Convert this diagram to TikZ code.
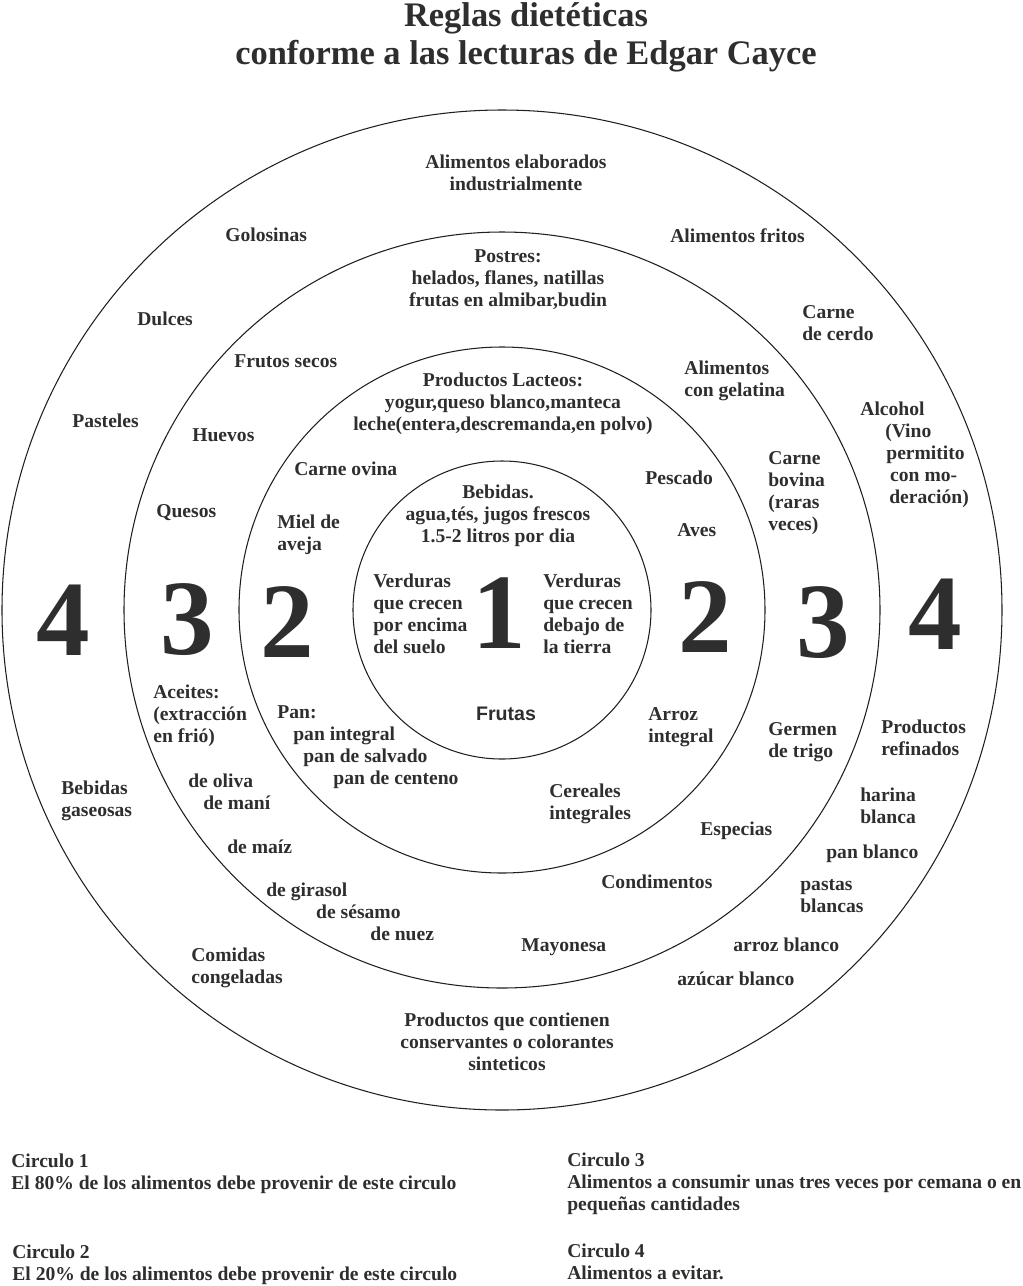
\documentclass[tikz,border=0pt]{standalone}
\usepackage{fontspec}
\setmainfont{Liberation Serif}
\newfontfamily\frutasfont{Liberation Sans}
\usepackage{tikz}
\usetikzlibrary{positioning}

\colorlet{ink}{black!82}

\begin{document}
\begin{tikzpicture}[x=0.02cm, y=-0.02cm,
    ring/.style={draw=black!88, line width=0.6pt},
    food/.style={font=\fontsize{11.15}{12.52}\selectfont\bfseries, text=ink, inner sep=0pt, align=left, anchor=north west, yshift=-0.04cm},
    foodc/.style={food, align=center, anchor=north},
    bignum/.style={font=\fontsize{61}{61}\selectfont\bfseries, text=ink, inner sep=0pt, anchor=center},
    note/.style={food}]
    \useasboundingbox (0,0) rectangle (1023,1286);

    % title
    \node[font=\fontsize{19.6}{21.6}\selectfont\bfseries, text=ink, inner sep=0pt, align=center, anchor=north] (title) at (526,2)
        {Reglas dietéticas\\conforme a las lecturas de Edgar Cayce};

    % the four circles
    \coordinate (c) at (502,610);
    \draw[ring] (c) circle (149);
    \draw[ring] (c) circle (263);
    \draw[ring] (c) circle (378);
    \draw[ring] (c) circle (500);

    % circle numbers
    \node[bignum] (n4l) at (63,620) {4};
    \node[bignum] (n3l) at (187,620) {3};
    \node[bignum] (n2l) at (287,622) {2};
    \node[bignum] (n1) at (499,613) {1};
    \node[bignum] (n2r) at (705,617) {2};
    \node[bignum] (n3r) at (823,623) {3};
    \node[bignum] (n4r) at (935,614) {4};

    % circle 1
    \node[foodc] (bebidas) at (498,483) {Bebidas.\\agua,tés, jugos frescos\\1.5-2 litros por dia};
    \node[food] (verdarriba) at (373,572) {Verduras\\que crecen\\por encima\\del suelo};
    \node[food] (verdabajo) at (543,572) {Verduras\\que crecen\\debajo de\\la tierra};
    \node[font=\fontsize{11.15}{12.52}\selectfont\frutasfont\bfseries, text=ink, inner sep=0pt] (frutas) at (506,714) {Frutas};

    % circle 2
    \node[foodc] (lacteos) at (503,371) {Productos Lacteos:\\yogur,queso blanco,manteca\\leche(entera,descremanda,en polvo)};
    \node[food] (ovina) at (294,460) {Carne ovina};
    \node[food] (pescado) at (645,469) {Pescado};
    \node[food] (miel) at (277,513) {Miel de\\aveja};
    \node[food] (aves) at (677,521) {Aves};
    \node[food] (pan) at (277,703) {Pan:\\\hspace*{9.1pt}pan integral\\\hspace*{14.8pt}pan de salvado\\\hspace*{31.9pt}pan de centeno};
    \node[food] (arrozint) at (648,705) {Arroz\\integral};
    \node[food] (cereales) at (549,782) {Cereales\\integrales};

    % circle 3
    \node[foodc] (postres) at (508,247) {Postres:\\helados, flanes, natillas\\frutas en almibar,budin};
    \node[food] (frutossecos) at (234,352) {Frutos secos};
    \node[food] (gelatina) at (684,359) {Alimentos\\con gelatina};
    \node[food] (huevos) at (192,426) {Huevos};
    \node[food] (bovina) at (768,449) {Carne\\bovina\\(raras\\veces)};
    \node[food] (quesos) at (156,502) {Quesos};
    \node[food] (aceites) at (153,683) {Aceites:\\(extracción\\en frió)};
    \node[food] (germen) at (768,720) {Germen\\de trigo};
    \node[food] (oliva) at (188,772) {de oliva\\\hspace*{8.5pt}de maní};
    \node[food] (especias) at (700,820) {Especias};
    \node[food] (maiz) at (227,838) {de maíz};
    \node[food] (condimentos) at (601,873) {Condimentos};
    \node[food] (girasol) at (266,881) {de girasol\\\hspace*{28.4pt}de sésamo\\\hspace*{59.2pt}de nuez};
    \node[food] (mayonesa) at (521,936) {Mayonesa};

    % circle 4
    \node[foodc] (elaborados) at (516,153) {Alimentos elaborados\\industrialmente};
    \node[food] (golosinas) at (225,226) {Golosinas};
    \node[food] (fritos) at (670,226) {Alimentos fritos};
    \node[food] (cerdo) at (802,303) {Carne\\de cerdo};
    \node[food] (dulces) at (137,310) {Dulces};
    \node[food] (alcohol) at (860,400) {Alcohol\\\hspace*{14.2pt}(Vino\\\hspace*{14.8pt}permitito\\\hspace*{17pt}con mo-\\\hspace*{16.5pt}deración)};
    \node[food] (pasteles) at (72,412) {Pasteles};
    \node[food] (refinados) at (881,718) {Productos\\refinados};
    \node[food] (gaseosas) at (61,779) {Bebidas\\gaseosas};
    \node[food] (harina) at (860,786) {harina\\blanca};
    \node[food] (panblanco) at (826,843) {pan blanco};
    \node[food] (pastas) at (800,877) {pastas\\blancas};
    \node[food] (arrozbl) at (733,936) {arroz blanco};
    \node[food] (congeladas) at (191,946) {Comidas\\congeladas};
    \node[food] (azucar) at (677,970) {azúcar blanco};
    \node[foodc] (conservantes) at (507,1011) {Productos que contienen\\conservantes o colorantes\\sinteticos};

    % legend
    \node[note] (leg1) at (11,1152) {Circulo 1\\El 80\% de los alimentos debe provenir de este circulo};
    \node[note] (leg2) at (12,1243) {Circulo 2\\El 20\% de los alimentos debe provenir de este circulo};
    \node[note] (leg3) at (567,1151) {Circulo 3\\Alimentos a consumir unas tres veces por cemana o en\\pequeñas cantidades};
    \node[note] (leg4) at (567,1242) {Circulo 4\\Alimentos a evitar.};
\end{tikzpicture}
\end{document}
